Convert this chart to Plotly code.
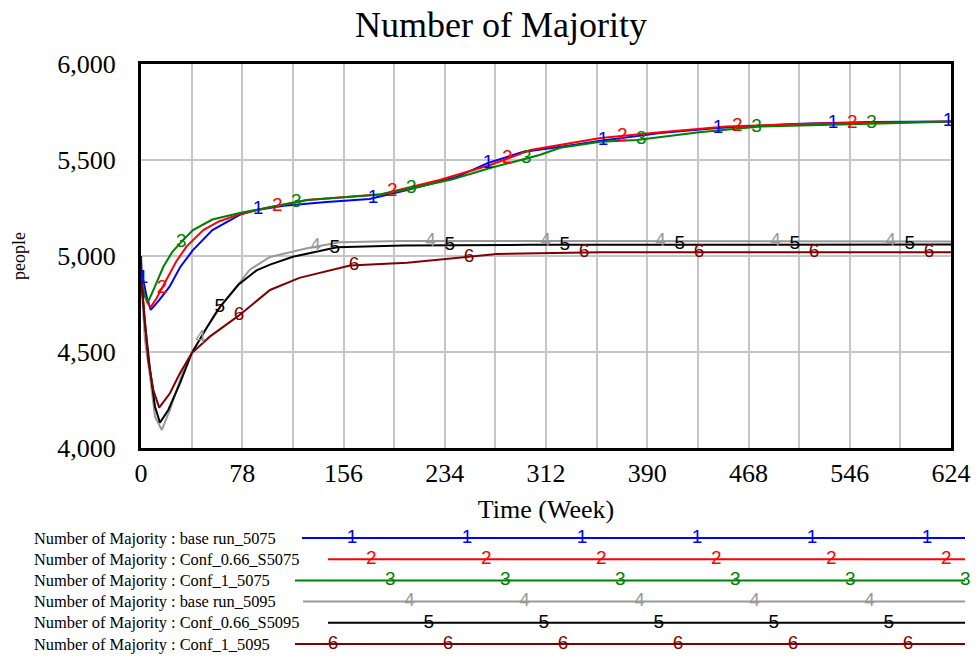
import numpy as np
import plotly.graph_objects as go

# ---------------- data ----------------
names = [
    "Number of Majority : base run_5075",
    "Number of Majority : Conf_0.66_S5075",
    "Number of Majority : Conf_1_5075",
    "Number of Majority : base run_5095",
    "Number of Majority : Conf_0.66_S5095",
    "Number of Majority : Conf_1_5095",
]
colors = ["#0000ff", "#ff0000", "#008000", "#999999", "#000000", "#800000"]

t1 = [0, 0.5, 4.4, 7.5, 14, 22, 30, 40, 55, 76, 89, 110, 143, 176, 205, 243, 267, 294, 333, 354, 400, 444, 502, 562, 624]
v1 = [5000, 4915, 4787, 4719, 4770, 4840, 4940, 5031, 5135, 5214, 5240, 5262, 5281, 5297, 5344, 5411, 5484, 5542, 5578, 5600, 5640, 5667, 5687, 5698, 5700]

t2 = [0, 1, 2, 5, 7.5, 12, 19.8, 27, 35, 48, 60, 76, 100, 128, 185, 230, 269, 300, 354, 400, 451, 520, 624]
v2 = [4900, 4850, 4810, 4755, 4734, 4780, 4875, 4970, 5049, 5135, 5180, 5218, 5255, 5292, 5322, 5396, 5474, 5552, 5615, 5645, 5674, 5690, 5700]

t3 = [0, 1, 3, 5.6, 10, 17.2, 24, 30, 40, 55, 76, 100, 128, 185, 207, 240, 269, 307, 323, 354, 382, 430, 477, 577, 624]
v3 = [4900, 4850, 4790, 4762, 4830, 4944, 5020, 5066, 5135, 5190, 5224, 5255, 5292, 5320, 5350, 5400, 5458, 5526, 5564, 5595, 5604, 5645, 5674, 5692, 5700]

t4 = [0, 1, 3, 7, 10.8, 16, 22.3, 32.6, 40.3, 46.7, 57, 68.6, 84, 99.4, 128, 153, 200, 300, 624]
v4 = [4900, 4800, 4563, 4371, 4163, 4094, 4198, 4406, 4510, 4580, 4700, 4797, 4930, 4995, 5040, 5072, 5078, 5078, 5076]

t5 = [0, 1, 3, 7, 10.8, 14.6, 21, 30, 39, 50, 61, 75, 89, 99.4, 117, 151, 202, 300, 624]
v5 = [4900, 4800, 4650, 4406, 4215, 4132, 4198, 4337, 4493, 4620, 4736, 4850, 4925, 4955, 4996, 5045, 5055, 5058, 5060]

t6 = [0, 1, 3, 5.6, 9.5, 14, 22.3, 30, 39, 53, 75, 99.4, 122, 161, 205, 274, 354, 624]
v6 = [4900, 4820, 4651, 4458, 4302, 4210, 4285, 4390, 4493, 4580, 4688, 4823, 4886, 4950, 4965, 5010, 5020, 5020]

times = [t1, t2, t3, t4, t5, t6]
values = [v1, v2, v3, v4, v5, v6]

x_ticks = [0, 78, 156, 234, 312, 390, 468, 546, 624]

# ---------------- layout helpers ----------------
W, H = 979, 659
SERIF = "Liberation Serif, Times New Roman, serif"
SANS = "Liberation Sans, Arial, sans-serif"
GRID = "#c6c6c6"

fig = go.Figure()

# series lines
for k in range(6):
    fig.add_trace(go.Scatter(x=times[k], y=values[k], mode="lines",
                             line=dict(color=colors[k], width=2),
                             name=names[k], showlegend=False, hoverinfo="skip",
                             xaxis="x", yaxis="y"))

# numbered run markers along each line (Vensim style)
MARK_START, MARK_STEP, MARK_PERIOD = 1.5, 14.8, 88.6
for k in range(6):
    mt = [MARK_START + k * MARK_STEP + j * MARK_PERIOD for j in range(8)]
    mt = [m for m in mt if m <= 622]
    mv = np.interp(mt, times[k], values[k])
    fig.add_trace(go.Scatter(x=mt, y=mv, mode="text", text=[str(k + 1)] * len(mt),
                             textposition="middle center",
                             textfont=dict(family=SANS, size=19, color=colors[k]),
                             showlegend=False, hoverinfo="skip", xaxis="x", yaxis="y"))

# ---------------- custom legend (bottom block) ----------------
row_y = [538 + 21.2 * k for k in range(6)]
line_start = [302, 328, 295, 303, 328, 295]
LINE_END = 965
annotations = []
for k in range(6):
    fig.add_trace(go.Scatter(x=[line_start[k], LINE_END], y=[row_y[k], row_y[k]], mode="lines",
                             line=dict(color=colors[k], width=2), showlegend=False,
                             hoverinfo="skip", xaxis="x2", yaxis="y2"))
    lx = [237 + 19.2 * k + 115 * j for j in range(8)]
    lx = [p for p in lx if line_start[k] + 15 <= p <= 970]
    fig.add_trace(go.Scatter(x=lx, y=[row_y[k]] * len(lx), mode="text", text=[str(k + 1)] * len(lx),
                             textposition="middle center",
                             textfont=dict(family=SANS, size=19, color=colors[k]),
                             showlegend=False, hoverinfo="skip", xaxis="x2", yaxis="y2"))
    annotations.append(dict(x=32, y=row_y[k], xref="x2", yref="y2", text=names[k],
                            showarrow=False, xanchor="left", yanchor="middle",
                            font=dict(family=SERIF, size=16.4, color="black")))

fig.update_layout(
    width=W, height=H,
    margin=dict(l=0, r=0, t=0, b=0, autoexpand=False),
    paper_bgcolor="white", plot_bgcolor="white",
    title=dict(text="Number of Majority", x=501 / W, xanchor="center",
               y=1 - 24 / H, yanchor="middle", yref="container",
               font=dict(family=SERIF, size=36, color="black")),
    xaxis=dict(domain=[141 / W, 951 / W], range=[0, 624], tickvals=x_ticks,
               showgrid=True, gridcolor=GRID, gridwidth=1.5,
               minor=dict(dtick=39, tick0=0, showgrid=True, gridcolor=GRID, gridwidth=1.5),
               showline=True, linecolor="black", linewidth=3, mirror=True,
               zeroline=False, ticks="", ticklabelstandoff=0, automargin=False,
               tickfont=dict(family=SERIF, size=26, color="black"),
               title=dict(text="Time (Week)", standoff=13,
                          font=dict(family=SERIF, size=26, color="black")),
               anchor="y"),
    yaxis=dict(domain=[1 - 448 / H, 1 - 64 / H], range=[4000, 6000], dtick=500, tick0=4000,
               tickformat=",d", showgrid=True, gridcolor=GRID, gridwidth=1.5,
               showline=True, linecolor="black", linewidth=3, mirror=True,
               zeroline=False, ticks="", ticklabelstandoff=17, automargin=False,
               tickfont=dict(family=SERIF, size=26, color="black"),
               title=dict(text="people", standoff=27,
                          font=dict(family=SERIF, size=18, color="black")),
               anchor="x"),
    xaxis2=dict(domain=[0, 1], range=[0, W], visible=False, anchor="y2", fixedrange=True,
                automargin=False),
    yaxis2=dict(domain=[0, 139 / H], range=[H, H - 139], visible=False, anchor="x2",
                fixedrange=True, automargin=False),
    annotations=annotations,
)

fig.write_html("out.html", config={"displayModeBar": False},
               post_script="document.body.style.margin='0';document.body.style.overflow='hidden';")
